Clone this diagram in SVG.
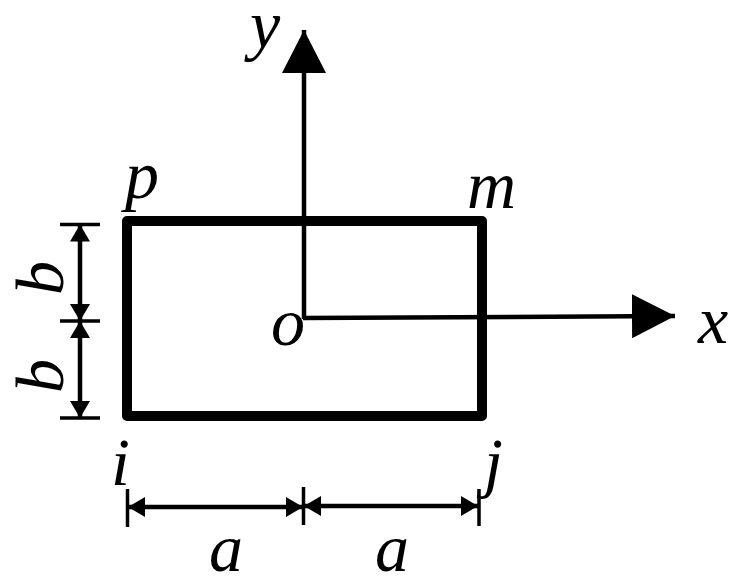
<svg xmlns="http://www.w3.org/2000/svg" width="739" height="584" viewBox="0 0 739 584">
<style>
text{font-family:'Liberation Serif',serif;font-style:italic;font-size:68px;fill:#000}
.dim{stroke:#000;stroke-width:4.500;fill:none}
.tick{stroke:#000;stroke-width:3.500;fill:none}
.axis{stroke:#000;stroke-width:4.500;fill:none}
</style>
<defs>
<marker id="big" markerUnits="userSpaceOnUse" markerWidth="43" markerHeight="44" refX="43" refY="22" orient="auto"><path d="M0 0L43 22L0 44Z" fill="#000"/></marker>
<marker id="small" markerUnits="userSpaceOnUse" markerWidth="17" markerHeight="20" refX="17" refY="10" orient="auto"><path d="M0 0L17 10L0 20Z" fill="#000"/></marker>
</defs>
<rect width="739" height="584" fill="#fff"/>
<g id="rectangle"><path d="M127 221H482V416H127Z" fill="none" stroke="#000" stroke-width="10" stroke-linejoin="round"/></g>
<g id="connectors">
<path class="axis" d="M304 319L304 30" marker-end="url(#big)"/>
<path class="axis" d="M303 318L675 316" marker-end="url(#big)"/>
<path class="tick" d="M60 224.500H100M60 321H100M60 418H100M127.500 489V527M303.500 487V525M479 489V526"/>
<path class="dim" d="M80 272L80 224.500" marker-end="url(#small)"/>
<path class="dim" d="M80 272L80 321" marker-end="url(#small)"/>
<path class="dim" d="M80 370L80 321" marker-end="url(#small)"/>
<path class="dim" d="M80 370L80 418" marker-end="url(#small)"/>
<path class="dim" d="M215 507L128 507" marker-end="url(#small)"/>
<path class="dim" d="M215 507L303 507" marker-end="url(#small)"/>
<path class="dim" d="M390 506L304 506" marker-end="url(#small)"/>
<path class="dim" d="M390 506L478 506" marker-end="url(#small)"/>
</g>
<g id="label-y"><text x="250" y="48">y</text></g>
<g id="label-p"><text x="125" y="198">p</text></g>
<g id="label-m"><text x="467" y="208">m</text></g>
<g id="label-x"><text x="698" y="343">x</text></g>
<g id="label-o"><text x="271" y="345">o</text></g>
<g id="label-i"><text x="111" y="485">i</text></g>
<g id="label-j"><text x="484" y="485">j</text></g>
<g id="label-a1"><text x="209" y="571">a</text></g>
<g id="label-a2"><text x="375" y="571">a</text></g>
<g id="label-b1"><text transform="translate(63 295) rotate(-90)">b</text></g>
<g id="label-b2"><text transform="translate(63 393) rotate(-90)">b</text></g>
</svg>
